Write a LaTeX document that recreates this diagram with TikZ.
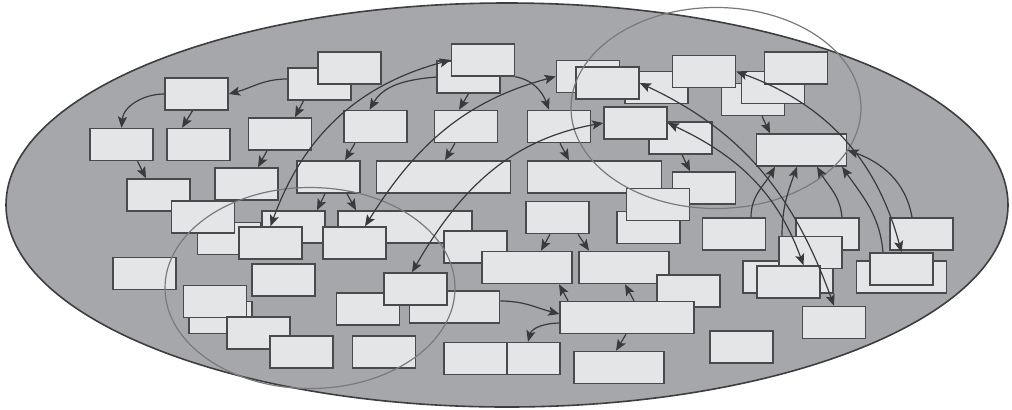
\documentclass[tikz,border=0pt]{standalone}
\usepackage{tikz}
\usetikzlibrary{arrows.meta,calc}

\definecolor{plate}{HTML}{A6A7AA}
\definecolor{plateline}{HTML}{3E3E40}
\definecolor{boxfill}{HTML}{E4E5E7}
\definecolor{boxline}{HTML}{4A4A4C}
\definecolor{wire}{HTML}{3A3A3C}
\definecolor{ring}{HTML}{7A7A7C}

\begin{document}
\begin{tikzpicture}[x=0.25mm,y=0.25mm,
        blk/.style={rectangle, draw=boxline, fill=boxfill, line width=0.38mm,
            minimum width=15.75mm, minimum height=8mm, inner sep=0pt},
        wblk/.style={blk, minimum width=22.6mm},
        xblk/.style={blk, minimum width=33.4mm},
        link/.style={draw=wire, line width=0.3mm,
            -{Stealth[length=2.8mm,width=2.3mm,inset=0.6mm]}},
        dlink/.style={link,
            {Stealth[length=2.8mm,width=2.3mm,inset=0.6mm]}-{Stealth[length=2.8mm,width=2.3mm,inset=0.6mm]}},
        zone/.style={draw=ring, line width=0.3mm},
    ]

    \useasboundingbox (0,0) rectangle (1012,-409);

    % plate
    \draw[draw=plateline, fill=plate, line width=0.4mm] (507,-205) ellipse [x radius=501, y radius=202];

    % left part, top
    \node[blk] (b4) at (319.5,-84) {};
    \node[blk] (b5) at (349.5,-68) {};
    \node[blk] (b1) at (196.5,-94) {};
    \node[blk] (b2) at (121.5,-144.5) {};
    \node[blk] (b3) at (198.5,-144.5) {};
    \node[blk] (b6) at (280,-134) {};
    \node[blk] (b7) at (158.5,-195) {};
    \node[blk] (b8) at (246.5,-184) {};
    \node[blk] (b9) at (328.5,-177) {};

    % left part, middle
    \node[blk] (b13) at (293.5,-227) {};
    \node[blk] (b11) at (229,-238.5) {};
    \node[blk] (b10) at (203,-217) {};
    \node[blk] (b12) at (270.5,-243) {};
    \node[xblk] (b14) at (405,-227) {};
    \node[blk] (b15) at (354.5,-243) {};
    \node[blk] (b16) at (144.5,-273.5) {};
    \node[blk] (b17) at (283.5,-280) {};

    % middle, top
    \node[blk] (b18) at (375.5,-126.5) {};
    \node[blk] (b20) at (468.5,-77) {};
    \node[blk] (b19) at (483,-60) {};
    \node[blk] (b21) at (466,-126.5) {};
    \node[blk] (b22) at (559,-126.5) {};
    \node[blk] (b23) at (588,-76.5) {};
    \node[blk] (b25) at (656.5,-87.5) {};
    \node[blk] (b24) at (607.5,-83) {};
    \node[blk] (b27) at (680.5,-138) {};
    \node[blk] (b26) at (635.5,-123) {};
    \node[xblk] (b28) at (443.5,-177) {};
    \node[xblk] (b29) at (594.5,-177) {};

    % middle
    \node[blk] (b30) at (557.5,-217.5) {};
    \node[blk] (b33) at (704,-188) {};
    \node[blk] (b32) at (648.5,-227.5) {};
    \node[blk] (b31) at (658,-204.5) {};
    \node[blk] (b48) at (475.5,-247) {};
    \node[wblk] (b49) at (527,-267.5) {};
    \node[wblk] (b50) at (624,-267.5) {};
    \node[blk] (b45) at (688.5,-291) {};
    \node[xblk] (b46) at (627,-317.5) {};
    \node[wblk] (b47) at (619,-367.5) {};

    % right part
    \node[wblk] (b34) at (801.5,-150) {};
    \node[blk] (b35) at (734,-234) {};
    \node[blk] (b36) at (827.5,-234) {};
    \node[wblk] (b39) at (788,-277) {};
    \node[blk] (b37) at (810.5,-252.5) {};
    \node[blk] (b40) at (788.5,-282) {};
    \node[blk] (b38) at (921.5,-234) {};
    \node[wblk] (b41) at (901.5,-277) {};
    \node[blk] (b42) at (901.5,-269) {};
    \node[blk] (b43) at (834,-322.5) {};
    \node[blk] (b44) at (741.5,-347) {};

    % right part, top
    \node[blk] (b62) at (753,-99.5) {};
    \node[blk] (b61) at (704,-71.5) {};
    \node[blk] (b63) at (773,-87.5) {};
    \node[blk] (b64) at (796,-68) {};

    % bottom
    \node[blk] (b52) at (368,-309) {};
    \node[wblk] (b53) at (454.5,-307) {};
    \node[blk] (b51) at (415.5,-289) {};
    \node[blk] (b54) at (384,-352) {};
    \node[blk] (b55) at (475.5,-358.5) {};
    \node[blk, minimum width=13.25mm] (b56) at (533.5,-358.5) {};
    \node[blk] (b59) at (220.5,-317.5) {};
    \node[blk] (b58) at (215,-301.5) {};
    \node[blk] (b60) at (258.5,-333) {};
    \node[blk] (b57) at (301.5,-352) {};

    % zones
    \draw[zone] (310,-288) ellipse [x radius=145, y radius=100.5];
    \draw[zone] (716,-108) ellipse [x radius=145, y radius=100.5];

    % short links
    \draw[link] ($(b4.west)+(0,5)$) to[out=180,in=15] (b1.east);
    \draw[link] (b1.west) to[out=180,in=85] (b2.north);
    \draw[link] ($(b1.south)+(-4,0)$) -- ($(b3.north)+(-16.5,0)$);
    \draw[link] ($(b4.south)+(-16,0)$) -- ($(b6.north)+(15,0)$);
    \draw[link] ($(b2.south)+(16,0)$) -- ($(b7.north)+(-12.5,0)$);
    \draw[link] ($(b6.south)+(-13,0)$) -- ($(b8.north)+(11.5,0)$);
    \draw[link] ($(b18.south)+(-20.5,0)$) -- ($(b9.north)+(16.5,0)$);
    \draw[link] ($(b9.south)+(-3.5,0)$) -- ($(b13.north)+(23.5,0)$);
    \draw[link] ($(b9.south)+(18.5,0)$) -- ($(b14.north)+(-49,0)$);
    \draw[link] (b20.south) -- ($(b21.north)+(-7,0)$);
    \draw[link] ($(b21.south)+(-11,0)$) -- ($(b28.north)+(1.5,0)$);
    \draw[link] ($(b22.south)+(1,0)$) -- ($(b29.north)+(-25.5,0)$);
    \draw[link] (b19.south east) to[out=-10,in=110] ($(b22.north)+(-10,0)$);
    \draw[link] (b20.west) to[out=185,in=60] ($(b18.north)+(-6,0)$);
    \draw[link] ($(b30.south)+(-7.5,0)$) -- ($(b49.north)+(14,0)$);
    \draw[link] ($(b30.south)+(20.5,0)$) -- ($(b50.north)+(-35,0)$);
    \draw[link] ($(b46.north)+(-59,0)$) -- ($(b49.south)+(32,0)$);
    \draw[link] ($(b46.north)+(7,0)$) -- ($(b50.south)+(1,0)$);
    \draw[link] ($(b53.east)+(0,6)$) to[out=0,in=165] ($(b46.west)+(0,3.5)$);
    \draw[link] ($(b46.west)+(0,-5.5)$) to[out=180,in=75] ($(b56.north)+(-5.5,0)$);
    \draw[link] ($(b46.south)+(-1,0)$) -- ($(b47.north)+(-3,0)$);
    \draw[link] ($(b27.south)+(1.5,0)$) -- ($(b33.north)+(-14,0)$);
    \draw[link] ($(b62.south)+(9,0)$) -- ($(b34.north)+(-31.5,0)$);

    % long links
    \draw[dlink] (b12.north) to[out=70,in=195] (b19.west);
    \draw[dlink] ($(b15.north)+(10.5,0)$) to[out=58,in=195] (b23.west);
    \draw[dlink] ($(b51.north)+(-3.5,0)$) to[out=60,in=190] (b26.west);
    \draw[dlink] (b24.east) to[out=-25,in=110] (b43.north);
    \draw[dlink] (b26.east) to[out=-25,in=110] ($(b40.north)+(15,0)$);
    \draw[dlink] (b61.east) to[out=-20,in=105] (b42.north);

    % into b34
    \draw[link] ($(b38.north)+(-9.5,0)$) to[out=100,in=-20] (b34.east);
    \draw[link] ($(b35.north)+(17,0)$) to[out=90,in=240] ($(b34.south)+(-26.5,0)$);
    \draw[link] ($(b37.north)+(-28.5,0)$) to[out=90,in=250] ($(b34.south)+(-4.5,0)$);
    \draw[link] ($(b36.north)+(14.5,0)$) to[out=95,in=-60] ($(b34.south)+(15.5,0)$);
    \draw[link] ($(b42.north)+(-18.5,0)$) to[out=95,in=-55] ($(b34.south)+(40.5,0)$);

\end{tikzpicture}
\end{document}
